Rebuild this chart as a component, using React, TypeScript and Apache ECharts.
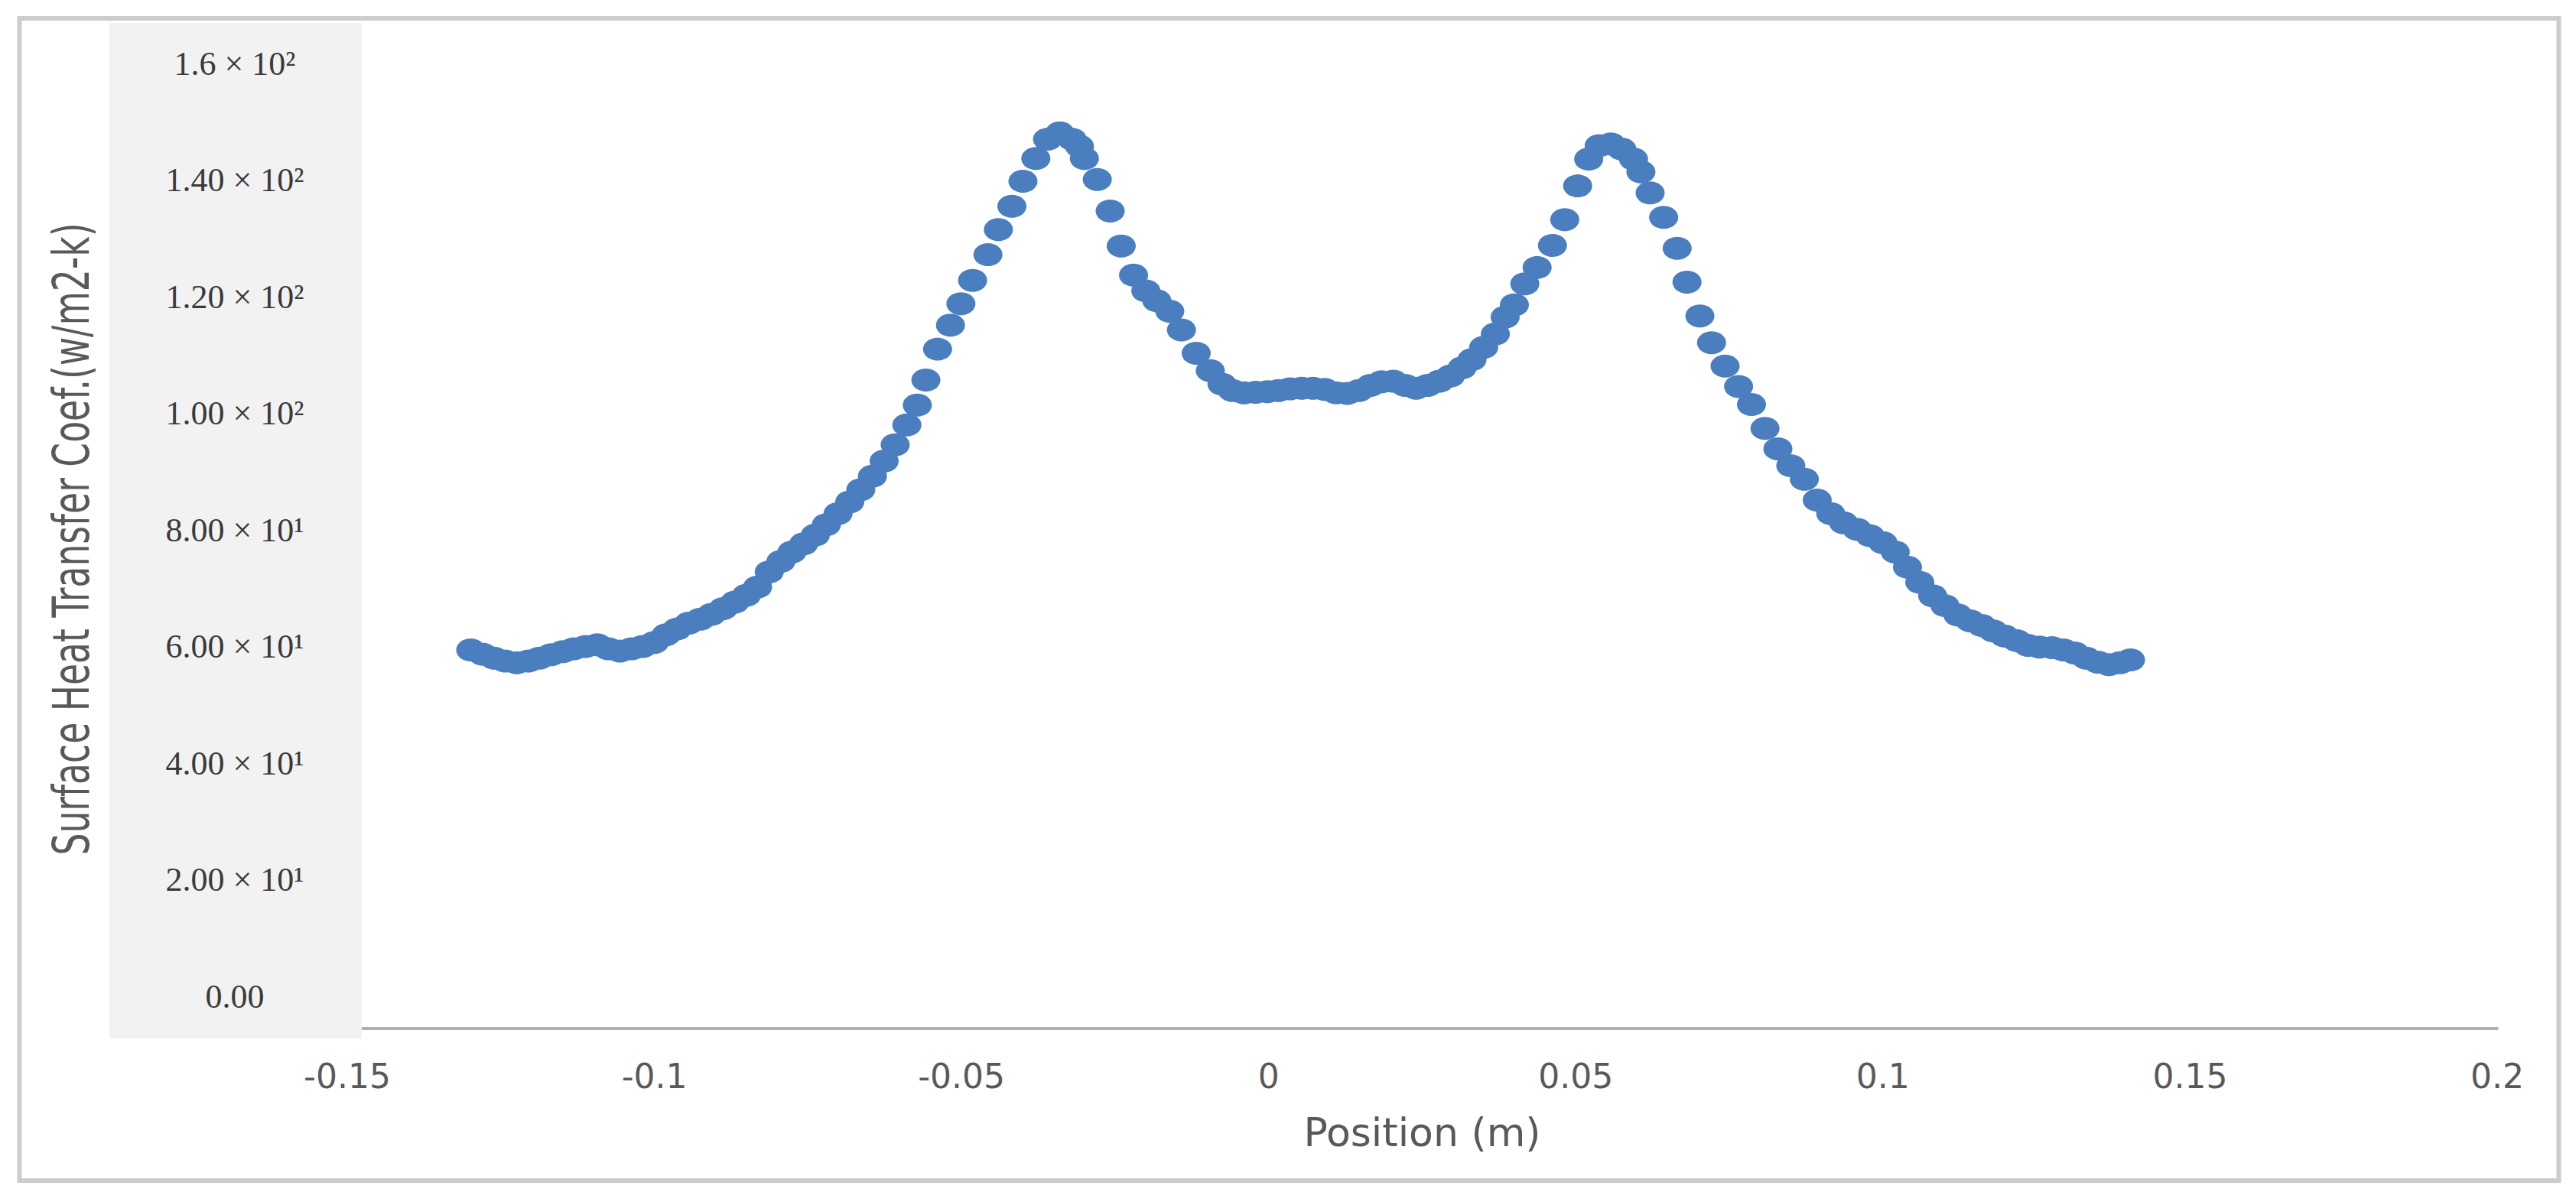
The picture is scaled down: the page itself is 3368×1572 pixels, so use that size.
import { useEffect, useRef } from "react";
import * as echarts from "echarts";

// Position along the surface (m)
const positionM = [
  -0.1299, -0.128, -0.1261, -0.1243, -0.1224, -0.1205, -0.1187, -0.1168, -0.1149, -0.1131,
  -0.1112, -0.1093, -0.1075, -0.1056, -0.1037, -0.1019, -0.1, -0.0981, -0.0963, -0.0944,
  -0.0925, -0.0907, -0.0888, -0.0869, -0.085, -0.0832, -0.0813, -0.0794, -0.0776, -0.0757,
  -0.0738, -0.072, -0.0701, -0.0682, -0.0664, -0.0645, -0.0626, -0.0608, -0.0589, -0.0572,
  -0.0558, -0.0539, -0.0518, -0.0501, -0.0482, -0.0457, -0.044, -0.0418, -0.04, -0.0379,
  -0.036, -0.034, -0.032, -0.0308, -0.03, -0.0279, -0.0258, -0.024, -0.022, -0.02,
  -0.0182, -0.0161, -0.0142, -0.0118, -0.0095, -0.0076, -0.0059, -0.004, -0.0021, -0.0002,
  0.0016, 0.0035, 0.0054, 0.0072, 0.0091, 0.011, 0.0128, 0.0147, 0.0166, 0.0184,
  0.0203, 0.0222, 0.024, 0.0259, 0.0278, 0.0296, 0.0315, 0.0331, 0.035, 0.0369,
  0.0385, 0.04, 0.0417, 0.0437, 0.0462, 0.0482, 0.0503, 0.0521, 0.0538, 0.0557,
  0.0575, 0.0594, 0.0606, 0.0621, 0.0643, 0.0665, 0.0681, 0.0702, 0.0721, 0.0743,
  0.0765, 0.0786, 0.0808, 0.0829, 0.085, 0.0872, 0.0893, 0.0915, 0.0936, 0.0958,
  0.0979, 0.1, 0.102, 0.104, 0.106, 0.1081, 0.1101, 0.1122, 0.1142, 0.1161,
  0.1179, 0.1198, 0.1218, 0.1236, 0.1255, 0.1275, 0.1294, 0.1312, 0.1331, 0.135,
  0.1368, 0.1386, 0.1403,
];

// Surface heat transfer coefficient (W/m2-K)
const heatTransferCoef = [
  59.4, 58.7, 58.0, 57.5, 57.2, 57.5, 58.0, 58.6, 59.1, 59.6,
  60.0, 60.3, 59.6, 59.2, 59.6, 60.0, 60.7, 62.0, 63.0, 64.0,
  64.7, 65.5, 66.5, 67.6, 68.8, 70.2, 72.8, 74.6, 76.2, 77.6,
  79.1, 80.9, 82.8, 84.8, 86.9, 89.2, 91.8, 94.6, 98.0, 101.4,
  105.7, 111.0, 115.1, 118.8, 122.8, 127.2, 131.5, 135.5, 139.8, 143.7,
  147.0, 148.1, 147.0, 145.8, 143.7, 140.1, 134.7, 128.7, 123.7, 121.0,
  119.3, 117.5, 114.3, 110.3, 107.3, 105.0, 103.9, 103.5, 103.6, 103.7,
  103.9, 104.2, 104.3, 104.3, 104.1, 103.5, 103.4, 103.9, 104.8, 105.4,
  105.5, 104.8, 104.3, 104.8, 105.5, 106.4, 107.8, 109.2, 111.3, 113.6,
  116.5, 118.6, 122.2, 125.0, 128.8, 133.2, 139.0, 143.6, 145.9, 146.2,
  145.3, 143.6, 141.4, 137.8, 133.6, 128.3, 122.5, 116.7, 112.1, 108.1,
  104.6, 101.5, 97.4, 93.9, 91.0, 88.7, 85.1, 82.8, 81.2, 80.1,
  79.0, 77.8, 76.2, 73.6, 71.0, 68.7, 67.0, 65.4, 64.4, 63.6,
  62.7, 61.8, 61.0, 60.2, 59.9, 59.8, 59.4, 58.9, 58.0, 57.3,
  56.9, 57.2, 57.7,
];

// Y tick labels as printed on the figure (0, 20, ..., 160)
const yTickLabels = [
  "0.00",
  "2.00 × 10¹",
  "4.00 × 10¹",
  "6.00 × 10¹",
  "8.00 × 10¹",
  "1.00 × 10²",
  "1.20 × 10²",
  "1.40 × 10²",
  "1.6 × 10²",
];

const xAxisTitle = "Position (m)";
const yAxisTitle = "Surface Heat Transfer Coef.(w/m2-k)";

export default function App() {
  const ref = useRef<HTMLDivElement>(null);

  useEffect(() => {
    if (!ref.current) return;
    const chart = echarts.init(ref.current, null, { renderer: "svg" });
    const data = positionM.map((x, i) => [x, heatTransferCoef[i]]);

    chart.setOption({
      animation: false,
      backgroundColor: "#ffffff",
      graphic: [
        {
          type: "rect",
          z: 5,
          shape: { x: 143, y: 30, width: 330, height: 1328 },
          style: { fill: "#f2f2f2" },
        },
        {
          type: "text",
          z: 12,
          x: 93,
          y: 705,
          rotation: Math.PI / 2,
          scaleX: 0.845,
          scaleY: 1.1,
          style: {
            text: yAxisTitle,
            fontFamily: "DejaVu Sans Condensed",
            fontSize: 60,
            fill: "#595959",
            align: "center",
            verticalAlign: "middle",
          },
        },
        {
          type: "rect",
          z: 30,
          shape: { x: 25.5, y: 24, width: 3320, height: 1520 },
          style: { fill: "none", stroke: "#cdcdcd", lineWidth: 6 },
        },
      ],
      grid: { left: 454, right: 103, top: 83, bottom: 269 },
      xAxis: {
        type: "value",
        min: -0.15,
        max: 0.2,
        interval: 0.05,
        offset: 42,
        z: 0,
        name: xAxisTitle,
        nameLocation: "middle",
        nameGap: 110,
        nameTextStyle: {
          fontFamily: "DejaVu Sans",
          fontSize: 52,
          color: "#595959",
        },
        axisLine: { show: true, onZero: false, lineStyle: { color: "#b0b0b0", width: 4 } },
        axisTick: { show: false },
        splitLine: { show: false },
        axisLabel: {
          fontFamily: "DejaVu Sans",
          fontSize: 44,
          color: "#595959",
          margin: 40,
          formatter: (v: number) => String(parseFloat(v.toFixed(2))),
        },
      },
      yAxis: {
        type: "value",
        min: 0,
        max: 160,
        interval: 20,
        z: 10,
        axisLine: { show: false },
        axisTick: { show: false },
        splitLine: { show: false },
        axisLabel: {
          fontFamily: "Liberation Serif",
          fontSize: 44,
          color: "#3a3a3a",
          align: "center",
          margin: 147,
          formatter: (v: number) => yTickLabels[Math.round(v / 20)] ?? "",
        },
      },
      series: [
        {
          type: "scatter",
          z: 20,
          symbol: "circle",
          symbolSize: [38, 30],
          itemStyle: { color: "#4a7ebf", opacity: 1 },
          data,
        },
      ],
    });

    return () => chart.dispose();
  }, []);

  return (
    <div
      ref={ref}
      style={{ position: "fixed", left: 0, top: 0, width: 3368, height: 1572, background: "#ffffff" }}
    />
  );
}
